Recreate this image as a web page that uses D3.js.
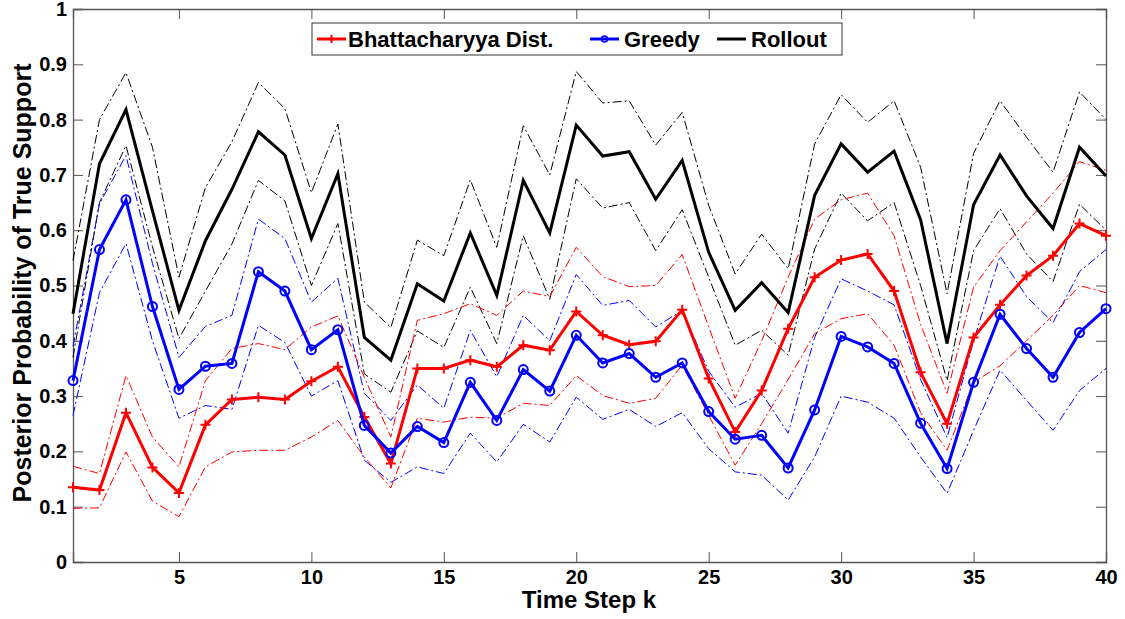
<!DOCTYPE html>
<html>
<head>
<meta charset="utf-8">
<script src="https://cdn.jsdelivr.net/npm/d3@7"></script>
<style>
  body { margin: 0; background: #fff; }
  svg { display: block; font-family: "Liberation Sans", Arial, sans-serif; font-weight: bold; }
</style>
</head>
<body>
<svg id="chart" width="1125" height="619"></svg>
<script>
// time steps 1..40
var steps = d3.range(1, 41);

// Rollout (black)
var rollout = [0.449, 0.72, 0.818, 0.635, 0.455, 0.581, 0.674, 0.778, 0.736, 0.585,
  0.702, 0.406, 0.365, 0.503, 0.472, 0.595, 0.482, 0.69, 0.595, 0.79,
  0.734, 0.742, 0.656, 0.726, 0.56, 0.455, 0.505, 0.451, 0.663, 0.756,
  0.705, 0.743, 0.619, 0.395, 0.646, 0.736, 0.662, 0.603, 0.75, 0.698];
var rolloutHi = [0.545, 0.80, 0.885, 0.75, 0.515, 0.677, 0.76, 0.867, 0.82, 0.668,
  0.792, 0.47, 0.424, 0.582, 0.554, 0.691, 0.569, 0.789, 0.70, 0.887,
  0.83, 0.834, 0.754, 0.813, 0.645, 0.521, 0.593, 0.53, 0.756, 0.845,
  0.795, 0.834, 0.714, 0.485, 0.739, 0.834, 0.768, 0.705, 0.85, 0.80];
var rolloutLo = [0.37, 0.65, 0.753, 0.57, 0.404, 0.49, 0.575, 0.69, 0.653, 0.50,
  0.612, 0.34, 0.307, 0.418, 0.388, 0.497, 0.395, 0.59, 0.475, 0.693,
  0.64, 0.65, 0.563, 0.637, 0.515, 0.392, 0.419, 0.374, 0.566, 0.667,
  0.617, 0.65, 0.50, 0.328, 0.563, 0.639, 0.557, 0.507, 0.647, 0.60];

// Greedy (blue)
var greedy = [0.328, 0.565, 0.655, 0.462, 0.312, 0.354, 0.359, 0.525, 0.49, 0.384,
  0.42, 0.247, 0.197, 0.245, 0.216, 0.325, 0.256, 0.348, 0.309, 0.41,
  0.36, 0.377, 0.334, 0.36, 0.272, 0.222, 0.229, 0.17, 0.275, 0.408,
  0.389, 0.359, 0.251, 0.169, 0.325, 0.448, 0.386, 0.334, 0.415, 0.458];
var greedyHi = [0.39, 0.648, 0.735, 0.54, 0.37, 0.426, 0.446, 0.62, 0.585, 0.47,
  0.513, 0.305, 0.256, 0.32, 0.278, 0.419, 0.335, 0.446, 0.40, 0.52,
  0.464, 0.473, 0.425, 0.455, 0.345, 0.28, 0.305, 0.233, 0.406, 0.512,
  0.49, 0.465, 0.33, 0.225, 0.40, 0.553, 0.48, 0.433, 0.525, 0.565];
var greedyLo = [0.265, 0.487, 0.576, 0.40, 0.26, 0.283, 0.276, 0.428, 0.397, 0.30,
  0.328, 0.184, 0.144, 0.172, 0.16, 0.233, 0.181, 0.249, 0.217, 0.298,
  0.258, 0.276, 0.245, 0.27, 0.205, 0.163, 0.157, 0.112, 0.19, 0.30,
  0.289, 0.26, 0.19, 0.124, 0.238, 0.347, 0.292, 0.238, 0.31, 0.35];

// Bhattacharyya Dist. (red)
var bhatt = [0.135, 0.13, 0.27, 0.171, 0.125, 0.248, 0.294, 0.298, 0.294, 0.327,
  0.353, 0.262, 0.178, 0.35, 0.35, 0.365, 0.353, 0.392, 0.383, 0.453,
  0.41, 0.393, 0.399, 0.456, 0.332, 0.235, 0.31, 0.422, 0.515, 0.546,
  0.557, 0.49, 0.343, 0.25, 0.406, 0.465, 0.518, 0.554, 0.612, 0.59];
var bhattHi = [0.173, 0.16, 0.337, 0.226, 0.172, 0.328, 0.386, 0.395, 0.384, 0.425,
  0.445, 0.334, 0.226, 0.437, 0.449, 0.467, 0.446, 0.49, 0.48, 0.569,
  0.516, 0.498, 0.50, 0.556, 0.425, 0.296, 0.40, 0.515, 0.62, 0.655,
  0.667, 0.59, 0.43, 0.305, 0.497, 0.563, 0.615, 0.667, 0.724, 0.708];
var bhattLo = [0.097, 0.098, 0.199, 0.11, 0.082, 0.172, 0.199, 0.202, 0.202, 0.226,
  0.256, 0.19, 0.134, 0.26, 0.253, 0.262, 0.26, 0.287, 0.283, 0.337,
  0.301, 0.287, 0.296, 0.356, 0.265, 0.175, 0.25, 0.33, 0.413, 0.44,
  0.449, 0.392, 0.27, 0.202, 0.325, 0.355, 0.40, 0.446, 0.50, 0.487];

var xTicks = [5, 10, 15, 20, 25, 30, 35, 40];
var yTicks = d3.range(0, 11).map(d => d / 10);

var margin = { top: 9, right: 19, bottom: 57, left: 73 },
  width = 1125 - margin.left - margin.right,
  height = 619 - margin.top - margin.bottom;

var svg = d3.select("#chart");
var g = svg.append("g").attr("transform", `translate(${margin.left},${margin.top})`);

var x = d3.scaleLinear().domain([1, 40]).range([0, width]);
var y = d3.scaleLinear().domain([0, 1]).range([height, 0]);

var axisColor = "#555";

// axes, MATLAB style: inward ticks on all four sides
var xAxis = g.append("g").attr("transform", `translate(0,${height})`)
  .call(d3.axisBottom(x).tickValues(xTicks).tickSize(-10).tickPadding(8).tickFormat(d3.format("d")));
var xTop = g.append("g")
  .call(d3.axisTop(x).tickValues(xTicks).tickSize(-10).tickFormat(""));
var yAxis = g.append("g")
  .call(d3.axisLeft(y).tickValues(yTicks).tickSize(-10).tickPadding(6).tickFormat(d => d3.format("")(d)));
var yRight = g.append("g").attr("transform", `translate(${width},0)`)
  .call(d3.axisRight(y).tickValues(yTicks).tickSize(-10).tickFormat(""));

[xAxis, xTop, yAxis, yRight].forEach(a => {
  a.select(".domain").attr("stroke", axisColor).attr("stroke-width", 1.3);
  a.selectAll(".tick line").attr("stroke", axisColor);
  a.selectAll("text").attr("fill", "#000").style("font-size", "20px").style("font-weight", "bold")
    .style("font-family", "'Liberation Sans', Arial, sans-serif");
});

var line = d3.line()
  .x((d, i) => x(steps[i]))
  .y(d => y(d));

var series = [
  { name: "Rollout", color: "#000", mean: rollout, hi: rolloutHi, lo: rolloutLo, marker: null },
  { name: "Greedy", color: "#0000ff", mean: greedy, hi: greedyHi, lo: greedyLo, marker: "o" },
  { name: "Bhattacharyya Dist.", color: "#ff0000", mean: bhatt, hi: bhattHi, lo: bhattLo, marker: "+" }
];

// dash-dot bounds
series.forEach(s => {
  [s.hi, s.lo].forEach(b => {
    g.append("path")
      .datum(b)
      .attr("d", line)
      .attr("fill", "none")
      .attr("stroke", s.color)
      .attr("stroke-width", 1)
      .attr("stroke-dasharray", "9,3,2,3");
  });
});

// mean lines with markers
function drawMarker(sel, type, color) {
  if (type === "o") {
    sel.append("circle").attr("r", 4.5).attr("fill", "none")
      .attr("stroke", color).attr("stroke-width", 2);
  } else if (type === "+") {
    sel.append("path").attr("d", "M-5,0H5M0,-5V5")
      .attr("stroke", color).attr("stroke-width", 2);
  }
}

series.slice().reverse().forEach(s => {
  g.append("path")
    .datum(s.mean)
    .attr("d", line)
    .attr("fill", "none")
    .attr("stroke", s.color)
    .attr("stroke-width", 3)
    .attr("stroke-linejoin", "miter");
  if (s.marker) {
    g.selectAll(null)
      .data(s.mean)
      .enter().append("g")
      .attr("transform", (d, i) => `translate(${x(steps[i])},${y(d)})`)
      .each(function () { drawMarker(d3.select(this), s.marker, s.color); });
  }
});

// legend
var legend = svg.append("g");
legend.append("rect")
  .attr("x", 312).attr("y", 23).attr("width", 530).attr("height", 32)
  .attr("fill", "#fff").attr("stroke", axisColor).attr("stroke-width", 1.2);

var legendItems = [
  { s: series[2], lx: 317, tx: 348 },
  { s: series[1], lx: 590, tx: 624 },
  { s: series[0], lx: 717, tx: 751 }
];
legendItems.forEach(it => {
  var ly = 39;
  legend.append("line")
    .attr("x1", it.lx).attr("x2", it.lx + 29).attr("y1", ly).attr("y2", ly)
    .attr("stroke", it.s.color).attr("stroke-width", 3);
  if (it.s.marker) {
    var m = legend.append("g").attr("transform", `translate(${it.lx + 14.5},${ly})`);
    if (it.s.marker === "o") {
      m.append("circle").attr("r", 3).attr("fill", "none").attr("stroke", it.s.color).attr("stroke-width", 1.5);
    } else {
      m.append("path").attr("d", "M0,-4V4").attr("stroke", it.s.color).attr("stroke-width", 2);
    }
  }
  legend.append("text")
    .attr("x", it.tx).attr("y", ly + 8)
    .style("font-size", "22px")
    .text(it.s.name);
});

// axis labels
svg.append("text")
  .attr("x", 589).attr("y", 608)
  .attr("text-anchor", "middle")
  .style("font-size", "24px")
  .text("Time Step k");

svg.append("text")
  .attr("transform", "translate(31,283) rotate(-90)")
  .attr("text-anchor", "middle")
  .style("font-size", "25px")
  .text("Posterior Probability of True Support");
</script>
</body>
</html>
